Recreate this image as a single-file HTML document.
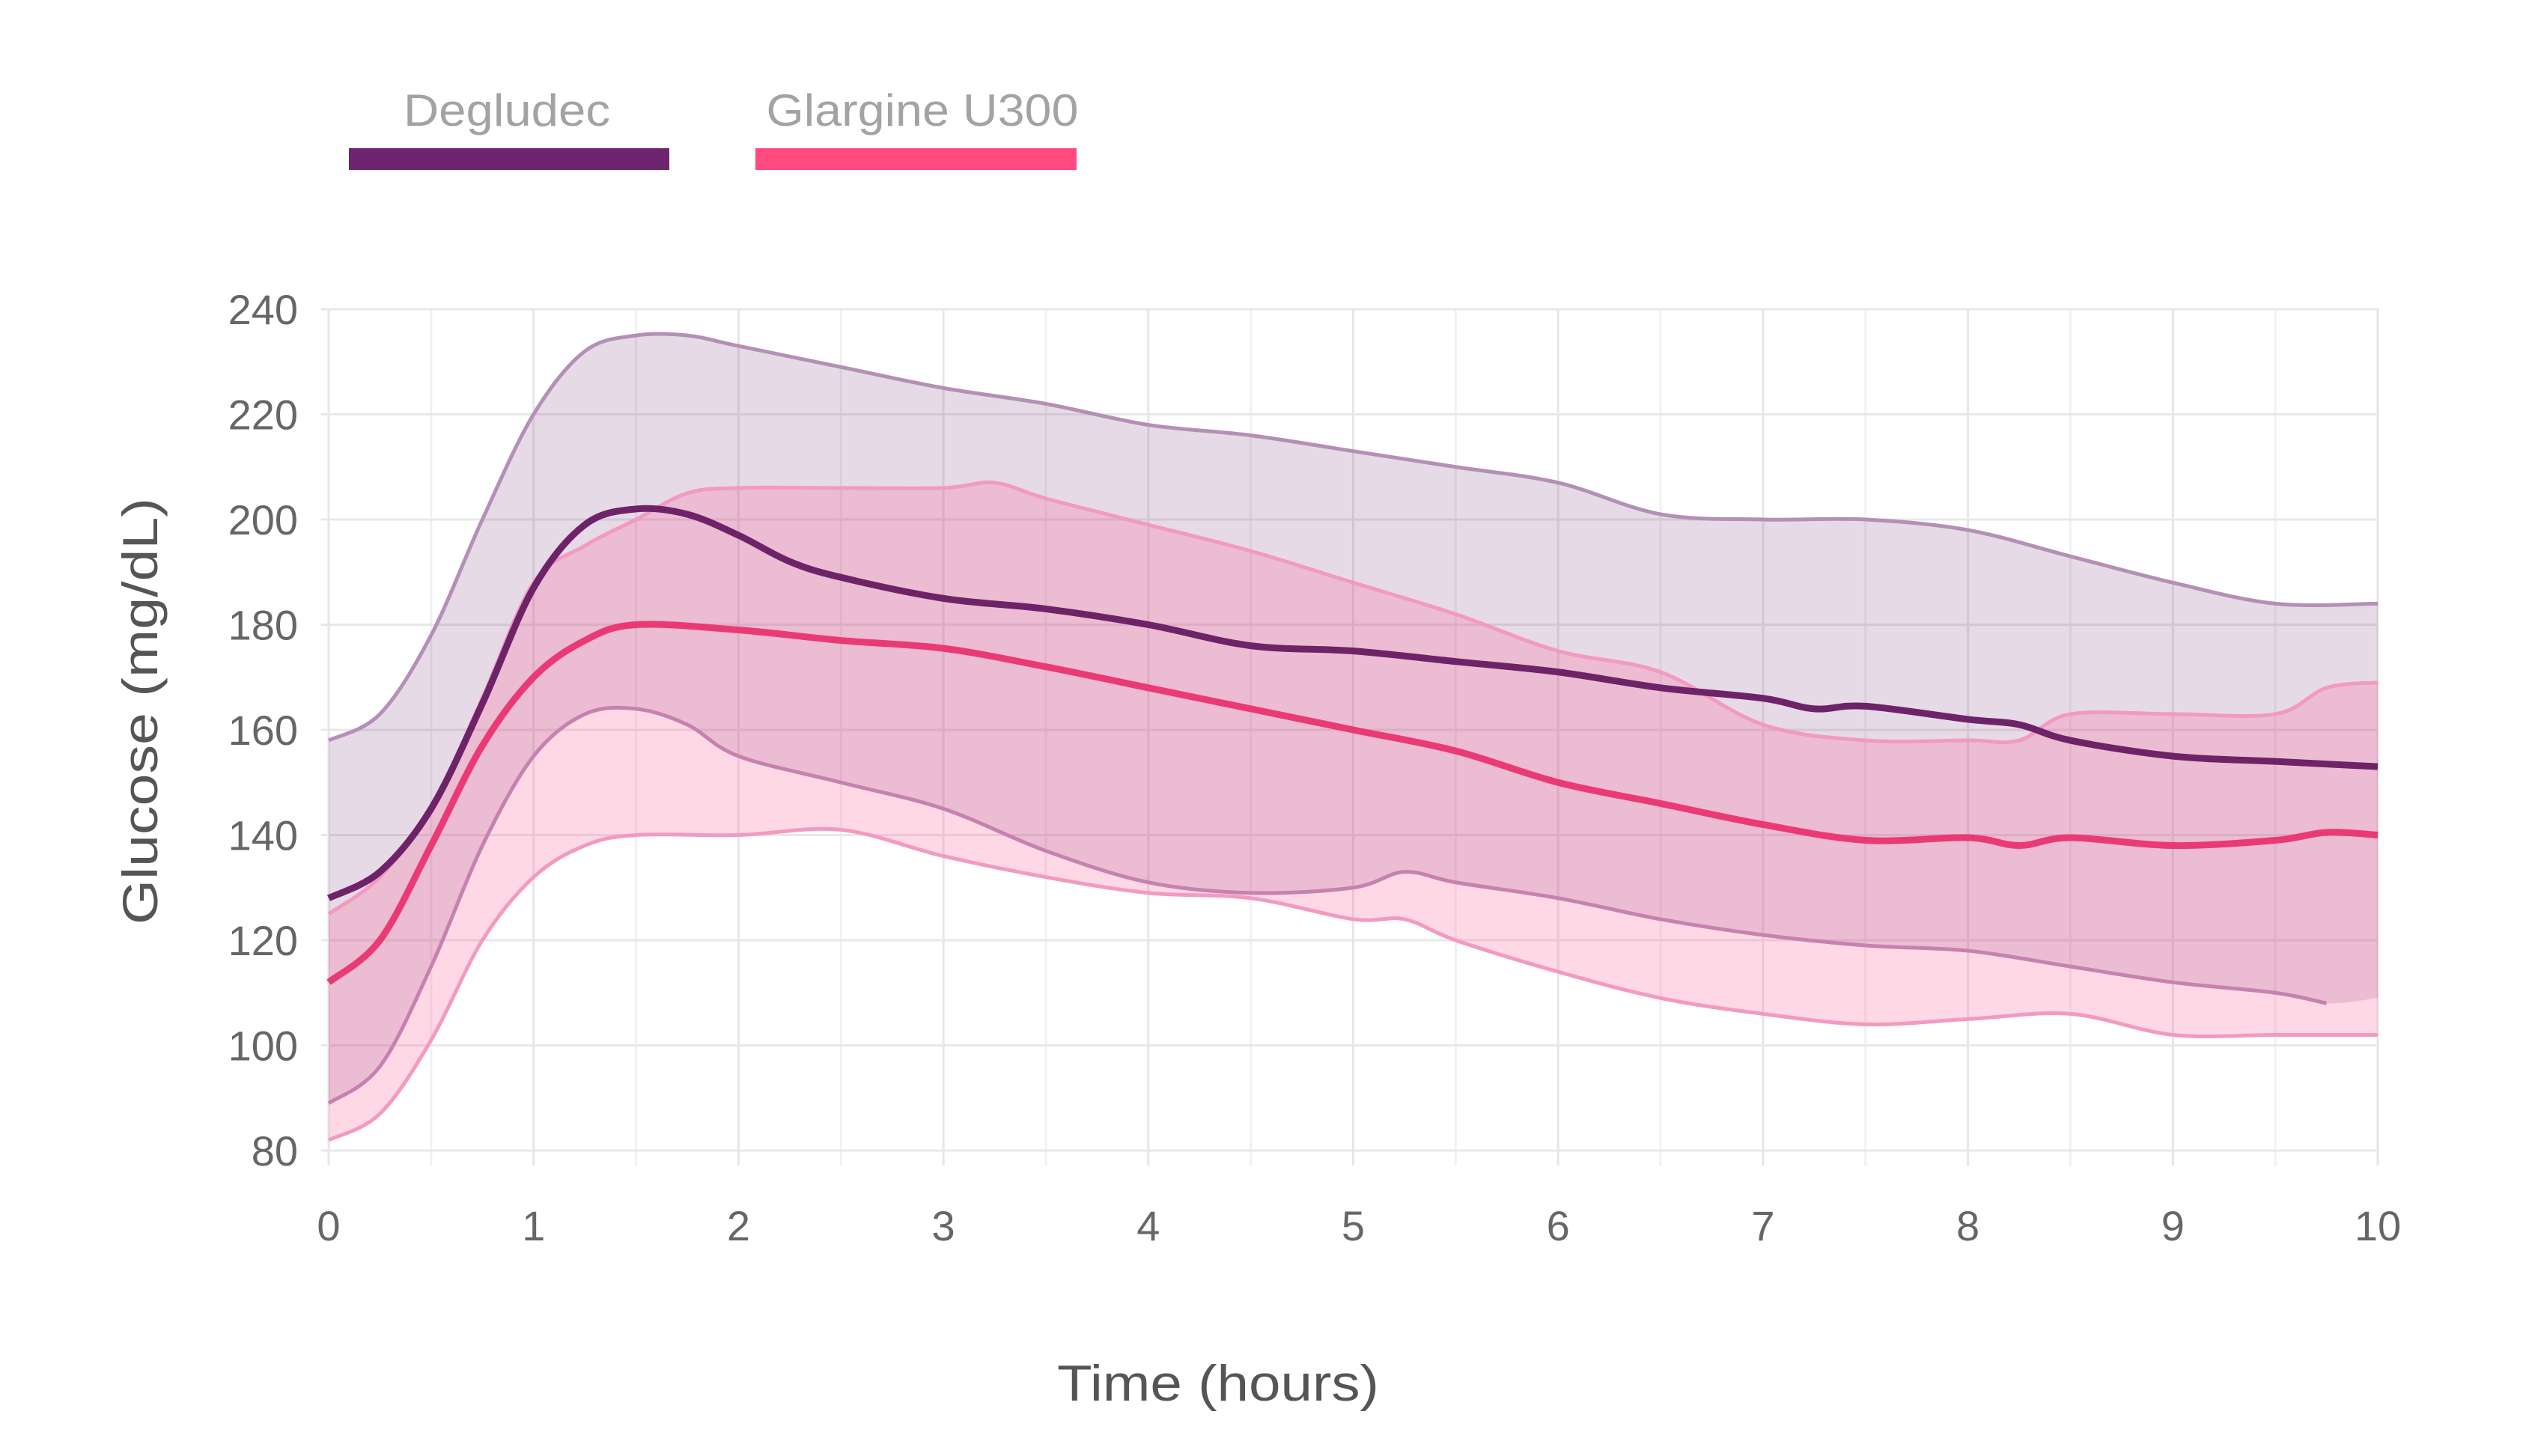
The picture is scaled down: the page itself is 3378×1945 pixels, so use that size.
<!DOCTYPE html>
<html><head><meta charset="utf-8"><style>
html,body{margin:0;padding:0;background:#fff;}
svg{display:block;font-family:"Liberation Sans",sans-serif;}
</style></head><body>
<svg id="chart" width="3378" height="1945" viewBox="0 0 3378 1945">
<g>
<text x="677" y="168" font-size="60" fill="#a3a3a3" text-anchor="middle" textLength="276" lengthAdjust="spacingAndGlyphs">Degludec</text>
<rect x="466" y="198" width="428" height="29" fill="#6e2570"/>
<text x="1232" y="168" font-size="60" fill="#a3a3a3" text-anchor="middle" textLength="417" lengthAdjust="spacingAndGlyphs">Glargine U300</text>
<rect x="1009" y="198" width="429" height="29" fill="#ff4a80"/>
</g>
<g id="grid"></g>
<g id="bands"></g>
<g id="lines"></g>
<g id="axes"></g>
<text transform="translate(210,950) rotate(-90)" font-size="66" fill="#555" text-anchor="middle" textLength="570" lengthAdjust="spacingAndGlyphs">Glucose (mg/dL)</text>
<text x="1627" y="1871" font-size="68" fill="#555" text-anchor="middle" textLength="430" lengthAdjust="spacingAndGlyphs">Time (hours)</text>
</svg>
<script>
const xTicks=[0,1,2,3,4,5,6,7,8,9,10];
const yTicks=[80,100,120,140,160,180,200,220,240];
const degT=[0,0.25,0.5,0.75,1,1.25,1.5,1.75,2,2.25,2.5,3,3.5,4,4.5,5,5.5,6,6.5,7,7.25,7.5,8,8.25,8.5,9,9.5,10];
const degMean=[128,133,145,165,187,199,202,201,197,192,189,185,183,180,176,175,173,171,168,166,164,164.5,162,161,158,155,154,153];
const bandT=[0,0.25,0.5,0.75,1,1.25,1.5,1.75,2,2.5,3,3.5,4,4.5,5,5.5,6,6.5,7,7.5,8,8.5,9,9.5,10];
const degUpper=[158,163,178,200,220,232,235,235,233,229,225,222,218,216,213,210,207,201,200,200,198,193,188,184,184];
const degLowT=[0,0.25,0.5,0.75,1,1.25,1.5,1.75,2,2.5,3,3.5,4,4.5,5,5.25,5.5,6,6.5,7,7.5,8,8.5,9,9.5,9.75,10];
const degLower=[89,96,115,138,155,163,164,161,155,150,145,137,131,129,130,133,131,128,124,121,119,118,115,112,110,108,109];
const glaT=[0,0.25,0.5,0.75,1,1.25,1.5,2,2.5,3,3.5,4,4.5,5,5.5,6,6.5,7,7.5,8,8.25,8.5,9,9.5,9.75,10];
const glaMean=[112,120,138,157,170,177,180,179,177,175.5,172,168,164,160,156,150,146,142,139,139.5,138,139.5,138,139,140.5,140];
const glaUpT=[0,0.25,0.5,0.75,1,1.25,1.5,1.75,2,2.5,3,3.25,3.5,4,4.5,5,5.5,6,6.5,7,7.5,8,8.25,8.5,9,9.5,9.75,10];
const glaUpper=[125,132,145,166,188,195,200,205,206,206,206,207,204,199,194,188,182,175,171,161,158,158,158,163,163,163,168,169];
const glaLowT=[0,0.25,0.5,0.75,1,1.25,1.5,2,2.5,3,3.5,4,4.5,5,5.25,5.5,6,6.5,7,7.5,8,8.5,9,9.5,10];
const glaLower=[82,87,101,120,132,138,140,140,141,136,132,129,128,124,124,120,114,109,106,104,105,106,102,102,102];

const X0=439,X1=3176,Y0=1537,Y1=413;
const xs=t=>X0+(X1-X0)*t/10;
const ys=v=>Y0-(Y0-Y1)*(v-80)/160;
const NS="http://www.w3.org/2000/svg";
function mk(tag,attrs,parent){const e=document.createElementNS(NS,tag);for(const k in attrs)e.setAttribute(k,attrs[k]);parent.appendChild(e);return e;}
function pts(T,V){return T.map((t,i)=>[xs(t),ys(V[i])]);}
function curve(p,move){let d=move?`M${p[0][0]},${p[0][1]}`:`L${p[0][0]},${p[0][1]}`;
 for(let i=0;i<p.length-1;i++){const a=p[Math.max(i-1,0)],b=p[i],c=p[i+1],e=p[Math.min(i+2,p.length-1)];
 d+=`C${b[0]+(c[0]-a[0])/6},${b[1]+(c[1]-a[1])/6} ${c[0]-(e[0]-b[0])/6},${c[1]-(e[1]-b[1])/6} ${c[0]},${c[1]}`;}return d;}
const grid=document.getElementById('grid'),axes=document.getElementById('axes');
for(let h=0;h<=20;h++){const l=mk('line',{x1:xs(h/2),x2:xs(h/2),y1:Y1,y2:Y0+20,stroke:h%2?'#f1f1f1':'#e6e6e6','stroke-width':3},grid);

}
yTicks.forEach(v=>{const l=mk('line',{x1:X0-10,x2:X1,y1:ys(v),y2:ys(v),stroke:'#e8e8e8','stroke-width':3},grid);


const t=mk('text',{x:398,y:ys(v)+20,'font-size':56,fill:'#666','text-anchor':'end'},axes);t.textContent=v;

});
xTicks.forEach(v=>{const t=mk('text',{x:xs(v),y:1657,'font-size':56,fill:'#666','text-anchor':'middle'},axes);t.textContent=v;

});
const bands=document.getElementById('bands'),lines=document.getElementById('lines');
function band(Tu,U,Tl,L,fill,stroke,name,lowEdgeCount){
 const up=pts(Tu,U),loF=pts(Tl,L),lo=loF.slice().reverse();
 const p=mk('path',{d:curve(up,true)+curve(lo,false)+'Z',fill:fill},bands);
 
 
 const a=mk('path',{d:curve(up,true),fill:'none',stroke:stroke,'stroke-width':5},bands);
 
 
 const b=mk('path',{d:curve(loF.slice(0,lowEdgeCount),true),fill:'none',stroke:stroke,'stroke-width':5},bands);
 
 }
band(bandT,degUpper,degLowT,degLower,'rgba(130,70,130,0.2)','#b48fb6','degludec',degLower.length-1);
band(glaUpT,glaUpper,glaLowT,glaLower,'rgba(255,90,150,0.24)','#f29ac0','glargine',glaLower.length);
const m1=mk('path',{d:curve(pts(degT,degMean),true),fill:'none',stroke:'#6e2369','stroke-width':9,'stroke-linejoin':'round'},lines);


const m2=mk('path',{d:curve(pts(glaT,glaMean),true),fill:'none',stroke:'#ea3a74','stroke-width':9,'stroke-linejoin':'round'},lines);


</script>
</body></html>
